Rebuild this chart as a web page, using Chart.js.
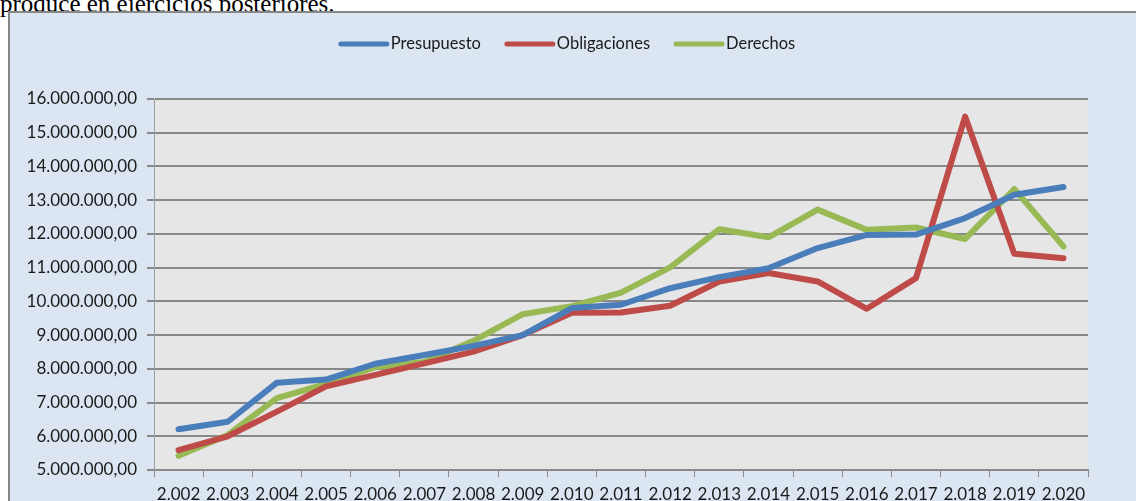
<!DOCTYPE html>
<html>
<head>
<meta charset="utf-8">
<script src="https://cdn.jsdelivr.net/npm/chart.js@4/dist/chart.umd.min.js"></script>
<style>
  html, body { margin: 0; padding: 0; background: #ffffff; overflow: hidden; }
  body { width: 1136px; height: 501px; position: relative; }
  .intro {
    position: absolute; left: 0; top: -9px; margin: 0;
    font-family: "Liberation Serif", serif; font-size: 25px; line-height: 25px;
    color: #000; white-space: nowrap;
  }
  .frame {
    position: absolute; left: 8px; top: 11px; width: 1140px; height: 500px;
    border: 2px solid #878787; background: #dce6f2;
  }
  #chart { position: absolute; left: 0; top: 0; }
</style>
</head>
<body>
<p class="intro">produce en ejercicios posteriores.</p>
<div class="frame">
  <canvas id="chart" width="1126" height="488"></canvas>
</div>
<script>
const years = ['2.002', '2.003', '2.004', '2.005', '2.006', '2.007', '2.008', '2.009', '2.010', '2.011',
               '2.012', '2.013', '2.014', '2.015', '2.016', '2.017', '2.018', '2.019', '2.020'];

const presupuesto = [6210000, 6430000, 7590000, 7680000, 8150000, 8410000, 8680000, 9000000, 9800000, 9900000,
                     10390000, 10720000, 10980000, 11580000, 11970000, 11980000, 12470000, 13160000, 13390000];
const obligaciones = [5590000, 6000000, 6730000, 7480000, 7820000, 8160000, 8510000, 9000000, 9660000, 9670000,
                      9870000, 10590000, 10840000, 10590000, 9780000, 10690000, 15480000, 11410000, 11280000];
const derechos = [5420000, 6040000, 7130000, 7550000, 8050000, 8200000, 8830000, 9620000, 9860000, 10260000,
                  11010000, 12140000, 11900000, 12720000, 12120000, 12190000, 11850000, 13330000, 11630000];

const seriesNames = ['Presupuesto', 'Obligaciones', 'Derechos'];
const seriesColors = ['#4a7ebb', '#be4b48', '#98b954'];

const yMin = 5000000;
const yMax = 16000000;
const yStep = 1000000;

const uiFont = 'Lato, "Open Sans", sans-serif';

function formatMoney(v) {
  const whole = Math.round(v).toString().replace(/\B(?=(\d{3})+(?!\d))/g, '.');
  return whole + ',00';
}

// plot background
const plotBg = {
  id: 'plotBg',
  beforeDraw(chart) {
    const { ctx, chartArea: a } = chart;
    ctx.save();
    ctx.fillStyle = '#e6e6e7';
    ctx.fillRect(a.left, a.top, a.right - a.left, a.bottom - a.top);
    ctx.restore();
  }
};

// excel-like legend: thick line then label right after it
const lineLegend = {
  id: 'lineLegend',
  afterDraw(chart) {
    const ctx = chart.ctx;
    const sets = chart.data.datasets;
    const lineLen = 50, gap = 2, spacing = 24, cy = 31, centerX = 557;
    ctx.save();
    ctx.font = '16.5px ' + uiFont;
    ctx.textBaseline = 'middle';
    const widths = sets.map(ds => lineLen + gap + ctx.measureText(ds.label).width);
    const total = widths.reduce((s, w) => s + w, 0) + spacing * (sets.length - 1);
    let x = centerX - total / 2;
    sets.forEach((ds, i) => {
      ctx.strokeStyle = ds.borderColor;
      ctx.lineWidth = 5;
      ctx.lineCap = 'round';
      ctx.beginPath();
      ctx.moveTo(x + 2, cy);
      ctx.lineTo(x + lineLen - 2, cy);
      ctx.stroke();
      ctx.fillStyle = '#1a1a1a';
      ctx.fillText(ds.label, x + lineLen + gap, cy);
      x += widths[i] + spacing;
    });
    ctx.restore();
  }
};

const seriesData = [presupuesto, obligaciones, derechos];

new Chart(document.getElementById('chart').getContext('2d'), {
  type: 'line',
  data: {
    labels: years,
    datasets: seriesNames.map((name, i) => ({
      label: name,
      data: seriesData[i],
      borderColor: seriesColors[i],
      backgroundColor: seriesColors[i],
      borderWidth: 6,
      borderCapStyle: 'round',
      borderJoinStyle: 'round',
      pointRadius: 0,
      tension: 0,
      fill: false
    }))
  },
  options: {
    responsive: false,
    animation: false,
    layout: { padding: { top: 86, right: 48, left: 0, bottom: 0 } },
    plugins: {
      legend: { display: false },
      tooltip: { enabled: false }
    },
    scales: {
      x: {
        offset: true,
        grid: { offset: true, drawOnChartArea: false, tickLength: 7, color: '#8a8a8a', lineWidth: 1 },
        border: { color: '#8a8a8a', width: 2 },
        ticks: { color: '#1a1a1a', font: { family: uiFont, size: 17 }, padding: 7, maxRotation: 0, autoSkip: false },
        afterFit(scale) { scale.height = 31; }
      },
      y: {
        min: yMin,
        max: yMax,
        grid: { color: '#888888', lineWidth: 2, tickLength: 7 },
        border: { color: '#a0a0a0', width: 1 },
        ticks: {
          stepSize: yStep,
          color: '#1a1a1a',
          padding: 10,
          font: { family: uiFont, size: 17 },
          callback: v => formatMoney(v)
        },
        afterFit(scale) { scale.width = 144; }
      }
    }
  },
  plugins: [plotBg, lineLegend]
});
</script>
</body>
</html>
